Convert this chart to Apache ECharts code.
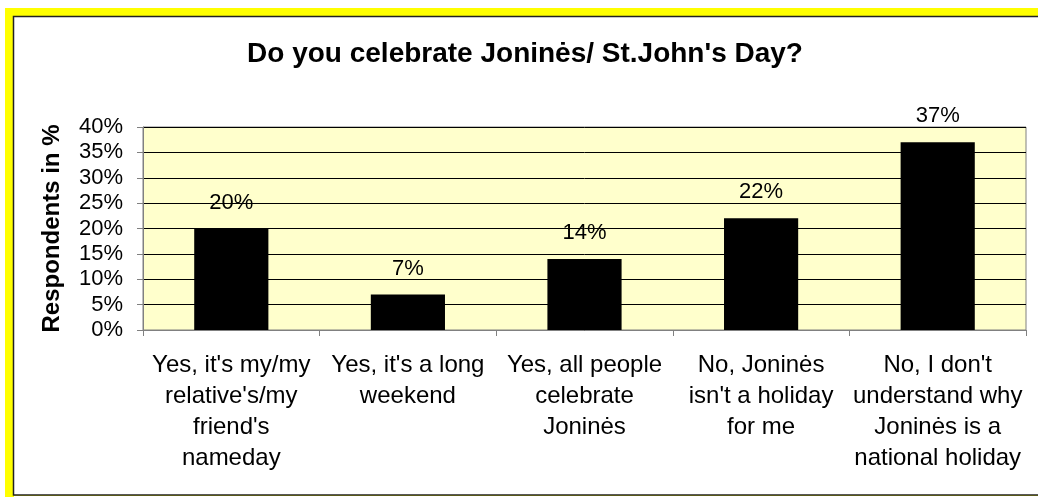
<!DOCTYPE html>
<html>
<head>
<meta charset="utf-8">
<script src="https://cdn.jsdelivr.net/npm/echarts@6/dist/echarts.min.js"></script>
<style>
  html, body { margin: 0; padding: 0; background: #fff; }
  #chart { width: 1038px; height: 497px; }
</style>
</head>
<body>
<div id="chart"></div>
<script>
// Survey answers (x axis) and share of respondents, in percent
const categories = [
  "Yes, it's my/my\nrelative's/my\nfriend's\nnameday",
  "Yes, it's a long\nweekend",
  "Yes, all people\ncelebrate\nJoninės",
  "No, Joninės\nisn't a holiday\nfor me",
  "No, I don't\nunderstand why\nJoninės is a\nnational holiday"
];
const shares = [20, 7, 14, 22, 37];
const yTicks = { min: 0, max: 40, interval: 5 };

const FONT = '"Liberation Sans", Arial, sans-serif';

const chart = echarts.init(document.getElementById('chart'), null, { renderer: 'canvas' });

chart.setOption({
  backgroundColor: '#ffffff',
  animation: false,
  graphic: [
    // yellow frame along the top and left edges
    { type: 'rect', z: -10, silent: true,
      shape: { x: 5, y: 8, width: 1100, height: 600 },
      style: { fill: '#ffff00' } },
    // white chart panel with thin dark outline
    { type: 'rect', z: -9, silent: true,
      shape: { x: 13.5, y: 16.5, width: 1100, height: 478.5 },
      style: { fill: '#ffffff', stroke: '#222222', lineWidth: 1.5 } },
    // white strip below the panel
    { type: 'rect', z: -8, silent: true,
      shape: { x: 14, y: 496, width: 1100, height: 10 },
      style: { fill: '#ffffff' } }
  ],
  title: {
    text: "Do you celebrate Joninės/ St.John's Day?",
    left: 520,
    textAlign: 'center',
    top: 35,
    textStyle: { fontFamily: FONT, fontSize: 28, fontWeight: 'bold', color: '#000' }
  },
  grid: {
    left: 143, right: 12, top: 127, bottom: 167,
    show: true,
    backgroundColor: '#ffffcc',
    borderColor: '#808080',
    borderWidth: 1
  },
  xAxis: {
    type: 'category',
    data: categories,
    axisLine: { lineStyle: { color: '#808080', width: 1 } },
    axisTick: { show: true, length: 6, alignWithLabel: false, lineStyle: { color: '#808080' } },
    axisLabel: {
      interval: 0,
      margin: 20,
      fontFamily: FONT, fontSize: 24, color: '#000',
      lineHeight: 31,
      align: 'center'
    },
    splitLine: { show: false }
  },
  yAxis: {
    type: 'value',
    min: yTicks.min, max: yTicks.max, interval: yTicks.interval,
    name: 'Respondents in %',
    nameLocation: 'middle',
    nameGap: 79,
    nameTextStyle: { fontFamily: FONT, fontSize: 24, fontWeight: 'bold', color: '#000' },
    axisLine: { show: true, lineStyle: { color: '#808080', width: 1 } },
    axisTick: { show: true, length: 6, lineStyle: { color: '#808080' } },
    axisLabel: {
      formatter: v => v + '%',
      margin: 20,
      fontFamily: FONT, fontSize: 22, color: '#000'
    },
    splitLine: { show: true, lineStyle: { color: '#000', width: 1 } }
  },
  series: [{
    type: 'bar',
    data: shares,
    barWidth: '42%',
    itemStyle: { color: '#000' },
    label: {
      show: true,
      position: 'top',
      distance: 15,
      formatter: p => p.value + '%',
      fontFamily: FONT, fontSize: 22, color: '#000'
    }
  }]
});
</script>
</body>
</html>
